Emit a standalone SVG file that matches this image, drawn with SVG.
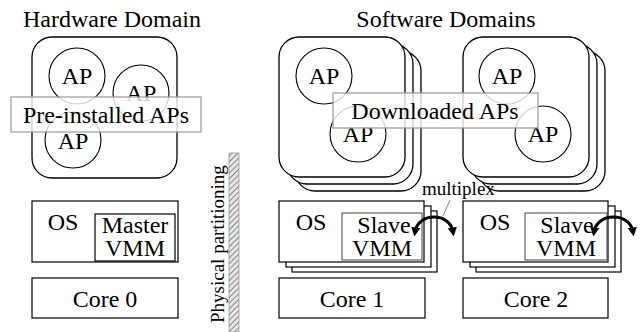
<svg xmlns="http://www.w3.org/2000/svg" width="641" height="332" viewBox="0 0 641 332" font-family="'Liberation Serif', 'DejaVu Serif', serif">
  <style>
    text { font-family: 'Liberation Serif', 'DejaVu Serif', serif; fill: #000; }
    .lbl { font-size: 24px; text-anchor: middle; }
    .sm { font-size: 19px; }
    .dom { fill: #fff; stroke: #000; stroke-width: 1.3; }
    .ap { fill: none; stroke: #000; stroke-width: 1.1; }
    .box { fill: #fff; stroke: #000; stroke-width: 1.2; }
    .tag { fill: #fff; fill-opacity: 0.8; stroke: #999; stroke-width: 1.2; }
    .vmm { fill: #fff; stroke: #444; stroke-width: 1; }
    .arc { fill: none; stroke: #000; stroke-width: 3; marker-start: url(#head); marker-end: url(#head); }
  </style>
  <defs>
    <pattern id="hatch" width="4" height="4" patternUnits="userSpaceOnUse" patternTransform="rotate(45)">
      <rect width="4" height="4" fill="#e6e6e6"/>
      <line x1="0" y1="0" x2="0" y2="4" stroke="#888" stroke-width="2"/>
    </pattern>
    <marker id="head" viewBox="0 0 10 10" refX="5" refY="5" markerWidth="3" markerHeight="3" orient="auto-start-reverse" markerUnits="strokeWidth">
      <path d="M0,0 L10,5 L0,10 z" fill="#000"/>
    </marker>
  </defs>

  <!-- titles -->
  <text class="lbl" x="112" y="27">Hardware Domain</text>
  <text class="lbl" x="446" y="27">Software Domains</text>

  <!-- hardware domain -->
  <g id="hw-domain">
    <rect class="dom" x="32" y="37" width="145" height="141" rx="20"/>
    <circle class="ap" cx="77" cy="76" r="28"/>
    <text class="lbl" x="77" y="84">AP</text>
    <circle class="ap" cx="141" cy="93" r="28"/>
    <text class="lbl" x="141" y="101">AP</text>
    <circle class="ap" cx="73" cy="140" r="28"/>
    <text class="lbl" x="73" y="149">AP</text>
    <rect class="tag" x="11" y="97" width="190" height="35"/>
    <text class="lbl" x="106" y="123">Pre-installed APs</text>
  </g>

  <!-- software domain 1 -->
  <g id="sw-domain-1">
    <rect class="dom" x="295" y="51" width="126" height="140" rx="20"/>
    <rect class="dom" x="287" y="44" width="126" height="140" rx="20"/>
    <rect class="dom" x="279" y="37" width="126" height="140" rx="20"/>
    <circle class="ap" cx="324" cy="76" r="28"/>
    <text class="lbl" x="324" y="84">AP</text>
    <circle class="ap" cx="358" cy="134" r="28"/>
    <text class="lbl" x="358" y="142">AP</text>
  </g>

  <!-- software domain 2 -->
  <g id="sw-domain-2">
    <rect class="dom" x="479" y="51" width="126" height="140" rx="20"/>
    <rect class="dom" x="471" y="44" width="126" height="140" rx="20"/>
    <rect class="dom" x="463" y="37" width="126" height="140" rx="20"/>
    <circle class="ap" cx="507" cy="76" r="28"/>
    <text class="lbl" x="507" y="84">AP</text>
    <circle class="ap" cx="543" cy="134" r="28"/>
    <text class="lbl" x="543" y="142">AP</text>
  </g>

  <g id="downloaded-label">
    <rect class="tag" x="333" y="93" width="205" height="35"/>
    <text class="lbl" x="435" y="119">Downloaded APs</text>
  </g>

  <!-- partition bar -->
  <g id="partition">
    <rect x="229" y="153" width="10" height="179" fill="url(#hatch)" stroke="#999" stroke-width="0.8"/>
    <text class="sm" transform="translate(224,323) rotate(-90)">Physical partitioning</text>
  </g>

  <!-- core 0 side -->
  <g id="os-0">
    <rect class="box" x="32" y="201" width="146" height="61"/>
    <text class="lbl" x="63" y="230">OS</text>
    <rect class="box" x="95" y="214" width="80" height="47" stroke-width="2"/>
    <text class="lbl" x="135" y="233">Master</text>
    <text class="lbl" x="135" y="256">VMM</text>
  </g>
  <g id="core-0">
    <rect class="box" x="32" y="278" width="146" height="40"/>
    <text class="lbl" x="105" y="307">Core 0</text>
  </g>

  <!-- core 1 side -->
  <g id="os-1">
    <rect class="box" x="292" y="211" width="145" height="61"/>
    <rect class="box" x="286" y="206" width="145" height="61"/>
    <rect class="box" x="279" y="201" width="145" height="61"/>
    <text class="lbl" x="311" y="230">OS</text>
    <rect class="vmm" x="342" y="213" width="80" height="47"/>
    <text class="lbl" x="384" y="233">Slave</text>
    <text class="lbl" x="382" y="256">VMM</text>
  </g>
  <g id="core-1">
    <rect class="box" x="279" y="278" width="146" height="40"/>
    <text class="lbl" x="352" y="307">Core 1</text>
  </g>

  <!-- core 2 side -->
  <g id="os-2">
    <rect class="box" x="476" y="211" width="145" height="61"/>
    <rect class="box" x="470" y="206" width="145" height="61"/>
    <rect class="box" x="463" y="201" width="145" height="61"/>
    <text class="lbl" x="495" y="230">OS</text>
    <rect class="vmm" x="525" y="213" width="82" height="47"/>
    <text class="lbl" x="567" y="233">Slave</text>
    <text class="lbl" x="566" y="256">VMM</text>
  </g>
  <g id="core-2">
    <rect class="box" x="463" y="278" width="145" height="40"/>
    <text class="lbl" x="536" y="307">Core 2</text>
  </g>

  <!-- multiplex arrows -->
  <g id="connectors">
    <path class="arc" d="M415,232 C418,212 450,212 453,232"/>
    <path class="arc" d="M594,232 C597,212 630,212 633,232"/>
    <line x1="450" y1="200" x2="443" y2="216" stroke="#888" stroke-width="1"/>
    <text class="sm" x="422" y="195">multiplex</text>
  </g>
</svg>
